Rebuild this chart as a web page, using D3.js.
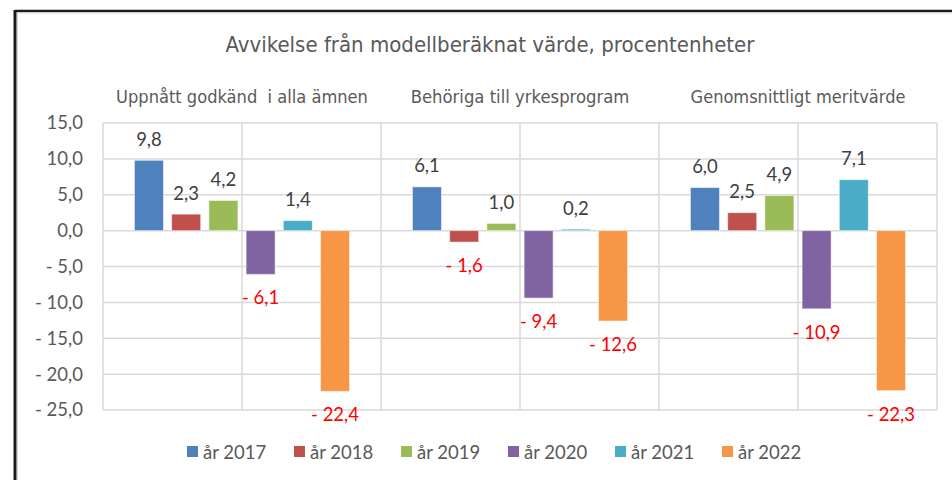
<!DOCTYPE html>
<html>
<head>
<meta charset="utf-8">
<script src="https://cdn.jsdelivr.net/npm/d3@7"></script>
<style>
  html, body { margin: 0; padding: 0; background: #ffffff; }
  svg { display: block; }
</style>
</head>
<body>
<svg id="chart" width="952" height="480"></svg>
<script>
// ---- data ----
const title = "Avvikelse från modellberäknat värde, procentenheter";
const categories = ["Uppnått godkänd  i alla ämnen", "Behöriga till yrkesprogram", "Genomsnittligt meritvärde"];
const seriesNames = ["år 2017", "år 2018", "år 2019", "år 2020", "år 2021", "år 2022"];
const v2017 = [9.8, 6.1, 6.0];
const v2018 = [2.3, -1.6, 2.5];
const v2019 = [4.2, 1.0, 4.9];
const v2020 = [-6.1, -9.4, -10.9];
const v2021 = [1.4, 0.2, 7.1];
const v2022 = [-22.4, -12.6, -22.3];
const yTicks = [15, 10, 5, 0, -5, -10, -15, -20, -25];
const colors = ["#4f81bd", "#c0504d", "#9bbb59", "#8064a2", "#4bacc6", "#f79646"];

const seriesValues = [v2017, v2018, v2019, v2020, v2021, v2022];

// ---- layout ----
const svg = d3.select("#chart");
const plot = { left: 103, right: 937, top: 123, bottom: 410 };
const labelFont = "Lato, 'Open Sans', sans-serif";
const narrowFont = "'Liberation Sans Narrow', 'DejaVu Sans Condensed', 'Roboto Condensed', sans-serif";

const fmt = v => {
  const s = Math.abs(v).toFixed(1).replace(".", ",");
  return v < 0 ? "- " + s : s;
};

// outer frame (top and left lines)
svg.append("line").attr("x1", 15).attr("x2", 952).attr("y1", 11).attr("y2", 11)
  .attr("stroke", "#1a1a1a").attr("stroke-width", 2.5);
svg.append("line").attr("x1", 15).attr("x2", 15).attr("y1", 10).attr("y2", 480)
  .attr("stroke", "#1a1a1a").attr("stroke-width", 3);
svg.append("line").attr("x1", 17.5).attr("x2", 17.5).attr("y1", 12.5).attr("y2", 480)
  .attr("stroke", "#d8d8d8").attr("stroke-width", 1);
svg.append("line").attr("x1", 17).attr("x2", 952).attr("y1", 13).attr("y2", 13)
  .attr("stroke", "#d8d8d8").attr("stroke-width", 1);

// scales
const y = d3.scaleLinear().domain([-25, 15]).range([plot.bottom, plot.top]);
const x0 = d3.scaleBand().domain(categories).range([plot.left, plot.right]).paddingInner(0).paddingOuter(0);
const x1 = d3.scaleBand().domain(seriesNames).range([0, x0.bandwidth()]).paddingInner(0.22).paddingOuter(0.845);

// gridlines (horizontal)
const grid = svg.append("g");
grid.selectAll("line.h").data(yTicks).join("line")
  .attr("x1", plot.left).attr("x2", plot.right)
  .attr("y1", d => y(d)).attr("y2", d => y(d))
  .attr("stroke", "#d9d9d9").attr("stroke-width", 1.5);
// vertical gridlines: category boundaries and centres
const vLines = [];
categories.forEach(c => { vLines.push(x0(c)); vLines.push(x0(c) + x0.bandwidth() / 2); });
vLines.push(plot.right);
grid.selectAll("line.v").data(vLines).join("line")
  .attr("x1", d => d).attr("x2", d => d)
  .attr("y1", plot.top).attr("y2", plot.bottom)
  .attr("stroke", "#d9d9d9").attr("stroke-width", 1.5);

// y axis labels
const yAxis = d3.axisLeft(y).tickValues(yTicks).tickFormat(fmt).tickSize(0).tickPadding(20);
const ya = svg.append("g").attr("transform", `translate(${plot.left},0)`).call(yAxis);
ya.select(".domain").remove();
ya.selectAll("text").attr("font-family", labelFont).attr("font-size", 18.5).attr("fill", "#595959");

// bars
const flat = [];
categories.forEach((c, ci) => {
  seriesNames.forEach((s, si) => {
    flat.push({ cat: c, ser: s, si, value: seriesValues[si][ci] });
  });
});
svg.append("g").selectAll("rect").data(flat).join("rect")
  .attr("x", d => x0(d.cat) + x1(d.ser))
  .attr("width", x1.bandwidth())
  .attr("y", d => Math.min(y(d.value), y(0)))
  .attr("height", d => Math.abs(y(d.value) - y(0)))
  .attr("fill", d => colors[d.si])
  .attr("stroke", "#ffffff").attr("stroke-opacity", 0.5).attr("stroke-width", 1);

// data labels
svg.append("g").selectAll("text").data(flat).join("text")
  .attr("x", d => x0(d.cat) + x1(d.ser) + x1.bandwidth() / 2)
  .attr("y", d => d.value >= 0 ? y(d.value) - 14.5 : y(d.value) + 30)
  .attr("text-anchor", "middle")
  .attr("font-family", labelFont).attr("font-size", 18.5)
  .attr("fill", d => d.value >= 0 ? "#404040" : "#ff0000")
  .text(d => fmt(d.value));

// title
function fitWidth(sel, target) {
  const node = sel.node();
  const w = node.getComputedTextLength();
  const fs = parseFloat(sel.attr("font-size"));
  if (w > 0) sel.attr("font-size", fs * target / w);
}
const t = svg.append("text").attr("x", 490).attr("y", 52).attr("text-anchor", "middle")
  .attr("font-family", narrowFont).attr("font-size", 22).attr("fill", "#595959").text(title);
fitWidth(t, 529);

// category headers at top
const catWidths = [252, 219, 215];
categories.forEach((c, i) => {
  const s = svg.append("text").attr("x", x0(c) + x0.bandwidth() / 2).attr("y", 103)
    .attr("text-anchor", "middle").attr("xml:space", "preserve")
    .attr("font-family", narrowFont).attr("font-size", 18).attr("fill", "#595959").text(c);
  s.style("white-space", "pre");
  fitWidth(s, catWidths[i]);
});

// legend
const legend = svg.append("g");
const itemStep = 107;
const legendStart = 187;
seriesNames.forEach((s, i) => {
  const g = legend.append("g").attr("transform", `translate(${legendStart + i * itemStep},452)`);
  g.append("rect").attr("x", 0).attr("y", -6).attr("width", 11).attr("height", 11).attr("fill", colors[i]);
  g.append("text").attr("x", 16).attr("y", 6.5).attr("font-family", labelFont).attr("font-size", 18.5)
    .attr("fill", "#595959").text(s);
});
</script>
</body>
</html>
